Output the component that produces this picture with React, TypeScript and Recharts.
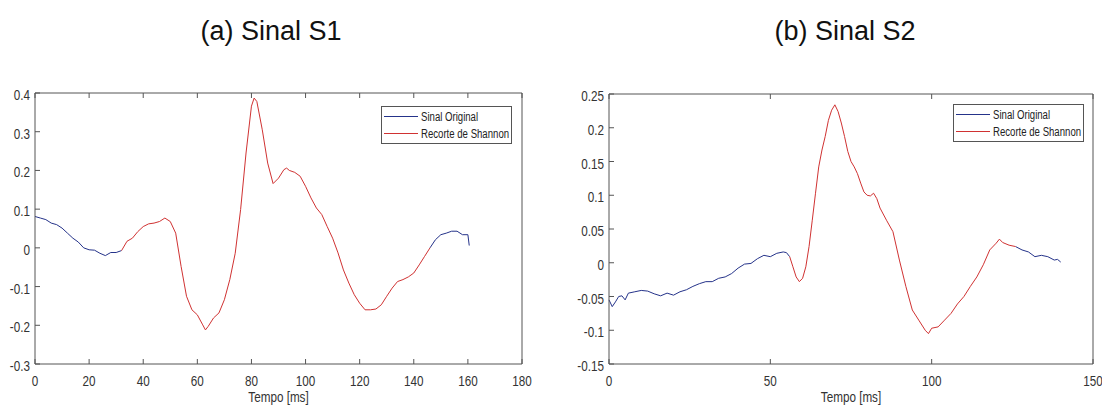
import React from "react";
import { LineChart, Line, XAxis, YAxis, Legend } from "recharts";

// S1 - tempo (ms) e amplitude
const s1Time = [
  0, 2, 4, 6, 8, 10, 12, 14, 16, 18, 20, 22, 24, 26, 28, 30, 32, 34, 36, 38, 40, 42, 44, 46, 48, 50, 52, 54, 56, 58,
  60, 62, 63, 64, 66, 68, 70, 72, 74, 76, 78, 80, 81, 82, 84, 86, 88, 90, 92, 93, 94, 96, 98, 100, 102, 104, 106, 108,
  110, 112, 114, 116, 118, 120, 122, 124, 126, 128, 130, 132, 134, 136, 138, 140, 142, 144, 146, 148, 150, 152, 154,
  156, 158, 160, 160.5,
];
const s1Values = [
  0.081, 0.077, 0.073, 0.064, 0.06, 0.051, 0.038, 0.025, 0.015, 0.0, -0.005, -0.006, -0.014, -0.02, -0.012, -0.012,
  -0.007, 0.017, 0.025, 0.042, 0.055, 0.062, 0.064, 0.068, 0.077, 0.068, 0.038, -0.048, -0.125, -0.16, -0.173, -0.199,
  -0.212, -0.203, -0.181, -0.168, -0.134, -0.082, -0.014, 0.099, 0.245, 0.366, 0.387, 0.378, 0.305, 0.219, 0.166, 0.18,
  0.202, 0.206, 0.2, 0.195, 0.185, 0.159, 0.129, 0.103, 0.086, 0.055, 0.025, -0.013, -0.057, -0.091, -0.121, -0.143,
  -0.16, -0.16, -0.158, -0.147, -0.125, -0.104, -0.087, -0.082, -0.075, -0.065, -0.044, -0.022, 0.0, 0.021, 0.034,
  0.038, 0.043, 0.043, 0.034, 0.034, 0.006,
];
const s1Shannon = [32, 146];

// S2
const s2Time = [
  0, 1, 2, 3, 4, 5, 6, 8, 10, 12, 14, 16, 18, 20, 22, 24, 26, 28, 30, 32, 34, 36, 38, 40, 42, 44, 46, 48, 50, 52, 54,
  55, 56, 57, 58, 59, 60, 61, 62, 63, 64, 65, 66, 67, 68, 69, 70, 71, 72, 73, 74, 75, 76, 77, 78, 79, 80, 81, 82, 83,
  84, 86, 88, 90, 92, 94, 96, 98, 99, 100, 102, 104, 106, 108, 110, 112, 114, 116, 118, 120, 121, 122, 124, 126, 128,
  130, 132, 134, 136, 138, 139, 140,
];
const s2Values = [
  -0.055, -0.065, -0.058, -0.05, -0.049, -0.055, -0.045, -0.043, -0.041, -0.042, -0.046, -0.049, -0.045, -0.048,
  -0.043, -0.04, -0.035, -0.031, -0.028, -0.028, -0.023, -0.021, -0.016, -0.008, -0.002, -0.001, 0.006, 0.011, 0.009,
  0.014, 0.016, 0.015, 0.009, -0.006, -0.021, -0.028, -0.023, -0.006, 0.024, 0.063, 0.103, 0.142, 0.167, 0.187, 0.211,
  0.226, 0.234, 0.224, 0.207, 0.187, 0.165, 0.15, 0.142, 0.132, 0.118, 0.105, 0.1, 0.099, 0.103, 0.095, 0.081, 0.063,
  0.046, 0.004, -0.035, -0.07, -0.085, -0.1, -0.105, -0.097, -0.095, -0.085, -0.075, -0.061, -0.05, -0.035, -0.021,
  -0.003, 0.019, 0.029, 0.035, 0.03, 0.026, 0.024, 0.019, 0.016, 0.009, 0.011, 0.009, 0.004, 0.005, 0.001,
];
const s2Shannon = [56, 126];

const seriesNames = ["Sinal Original", "Recorte de Shannon"];
const s1XTicks = [0, 20, 40, 60, 80, 100, 120, 140, 160, 180];
const s1YTicks = [-0.3, -0.2, -0.1, 0, 0.1, 0.2, 0.3, 0.4];
const s2XTicks = [0, 50, 100, 150];
const s2YTicks = [-0.15, -0.1, -0.05, 0, 0.05, 0.1, 0.15, 0.2, 0.25];

const AXIS = "#555";
const TEXT = "#333";
const BLUE = "#25338a";
const RED = "#d03232";
const SANS = "'Liberation Sans', Arial, Helvetica, sans-serif";
const SQUEEZE = 0.78;

// azul fora do recorte, vermelho dentro (pontos de borda compartilhados)
function buildRows(times: number[], values: number[], range: number[]) {
  return times.map((t, i) => ({
    t,
    orig: t <= range[0] || t >= range[1] ? values[i] : null,
    clip: t >= range[0] && t <= range[1] ? values[i] : null,
  }));
}

// texto estreito (como a fonte do MATLAB)
const NarrowText = ({ x, y, anchor, children }: any) => (
  <text
    transform={`translate(${x},${y}) scale(${SQUEEZE},1)`}
    textAnchor={anchor}
    fill={TEXT}
    fontSize={15}
    fontFamily={SANS}
  >
    {children}
  </text>
);

const BottomTick = ({ x, y, payload }: any) => (
  <g>
    <line x1={x} x2={x} y1={y} y2={y - 5} stroke={AXIS} />
    <NarrowText x={x} y={y + 22} anchor="middle">
      {payload.value}
    </NarrowText>
  </g>
);

const TopTick = ({ x, y }: any) => <line x1={x} x2={x} y1={y} y2={y + 5} stroke={AXIS} />;

const LeftTick = ({ x, y, payload }: any) => (
  <g>
    <line x1={x} x2={x + 5} y1={y} y2={y} stroke={AXIS} />
    <NarrowText x={x - 5} y={y + 7} anchor="end">
      {payload.value}
    </NarrowText>
  </g>
);

const RightTick = ({ x, y }: any) => <line x1={x} x2={x - 5} y1={y} y2={y} stroke={AXIS} />;

const AxisTitle = ({ viewBox }: any) => {
  if (!viewBox) return null;
  return (
    <NarrowText x={viewBox.x + viewBox.width / 2} y={viewBox.y + viewBox.height - 5} anchor="middle">
      Tempo [ms]
    </NarrowText>
  );
};

const LegendBox = ({ payload }: any) => {
  const items = [...(payload || [])].sort(
    (a: any, b: any) => seriesNames.indexOf(a.value) - seriesNames.indexOf(b.value)
  );
  return (
    <div
      style={{
        border: `1px solid ${AXIS}`,
        background: "#fff",
        height: 35,
        paddingTop: 1,
        boxSizing: "content-box",
        fontFamily: SANS,
        fontSize: 12,
        color: "#222",
      }}
    >
      {items.map((p: any) => (
        <div key={p.value} style={{ display: "flex", alignItems: "center", height: 17 }}>
          <div style={{ width: 34, height: 1, background: p.color, marginLeft: 2, marginRight: 3, flexShrink: 0 }} />
          <span
            style={{
              whiteSpace: "nowrap",
              display: "inline-block",
              transform: "scaleX(0.8)",
              transformOrigin: "left center",
            }}
          >
            {p.value}
          </span>
        </div>
      ))}
    </div>
  );
};

type PanelProps = {
  rows: any[];
  xMax: number;
  xTicks: number[];
  yTicks: number[];
  yWidth: number;
  margin: any;
  legendPos: any;
};

function Panel({ rows, xMax, xTicks, yTicks, yWidth, margin, legendPos }: PanelProps) {
  const yDomain = [yTicks[0], yTicks[yTicks.length - 1]];
  return (
    <LineChart width={551} height={407} data={rows} margin={margin} style={{ overflow: "visible" }}>
      <XAxis
        dataKey="t"
        type="number"
        domain={[0, xMax]}
        ticks={xTicks}
        tickSize={0}
        tickMargin={0}
        tickLine={false}
        tick={<BottomTick />}
        height={43}
        stroke={AXIS}
        interval={0}
        label={<AxisTitle />}
      />
      <XAxis
        xAxisId="top"
        orientation="top"
        dataKey="t"
        type="number"
        domain={[0, xMax]}
        ticks={xTicks}
        tickSize={0}
        tickMargin={0}
        tickLine={false}
        tick={<TopTick />}
        height={1}
        stroke={AXIS}
        interval={0}
      />
      <YAxis
        type="number"
        domain={yDomain}
        ticks={yTicks}
        tickSize={0}
        tickMargin={0}
        tickLine={false}
        tick={<LeftTick />}
        width={yWidth}
        stroke={AXIS}
        interval={0}
        allowDataOverflow
      />
      <YAxis
        yAxisId="right"
        orientation="right"
        type="number"
        domain={yDomain}
        ticks={yTicks}
        tickSize={0}
        tickMargin={0}
        tickLine={false}
        tick={<RightTick />}
        width={1}
        stroke={AXIS}
        interval={0}
      />
      <Legend
        layout="horizontal"
        verticalAlign="middle"
        align="center"
        content={<LegendBox />}
        wrapperStyle={{ ...legendPos, width: 131, height: 38 }}
      />
      <Line
        type="linear"
        dataKey="orig"
        name={seriesNames[0]}
        stroke={BLUE}
        strokeWidth={1}
        dot={false}
        connectNulls={false}
        isAnimationActive={false}
      />
      <Line
        type="linear"
        dataKey="clip"
        name={seriesNames[1]}
        stroke={RED}
        strokeWidth={1}
        dot={false}
        connectNulls={false}
        isAnimationActive={false}
      />
    </LineChart>
  );
}

const titleStyle: React.CSSProperties = {
  position: "absolute",
  top: 18,
  width: 300,
  textAlign: "center",
  fontFamily: SANS,
  fontSize: 27,
  lineHeight: "27px",
  color: "#111",
};

export default function App() {
  const rows1 = buildRows(s1Time, s1Values, s1Shannon);
  const rows2 = buildRows(s2Time, s2Values, s2Shannon);
  return (
    <div style={{ position: "absolute", left: 0, top: 0, width: 1102, height: 407, background: "#fff", overflow: "hidden" }}>
      <div style={{ ...titleStyle, left: 271 - 150 }}>(a) Sinal S1</div>
      <div style={{ ...titleStyle, left: 845 - 150 }}>(b) Sinal S2</div>
      <div style={{ position: "absolute", left: 0, top: 0 }}>
        <Panel
          rows={rows1}
          xMax={180}
          xTicks={s1XTicks}
          yTicks={s1YTicks}
          yWidth={35}
          margin={{ top: 92, right: 28, bottom: 0, left: 0 }}
          legendPos={{ left: 381, top: 106 }}
        />
      </div>
      <div style={{ position: "absolute", left: 551, top: 0 }}>
        <Panel
          rows={rows2}
          xMax={150}
          xTicks={s2XTicks}
          yTicks={s2YTicks}
          yWidth={58}
          margin={{ top: 93, right: 8, bottom: 0, left: 0 }}
          legendPos={{ left: 402, top: 104 }}
        />
      </div>
    </div>
  );
}
